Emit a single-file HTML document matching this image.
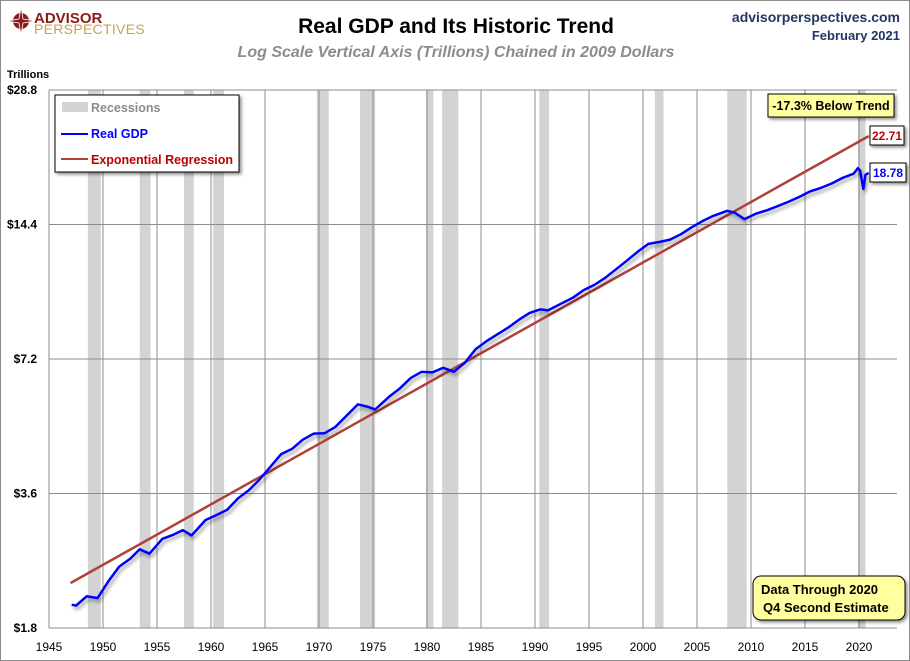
<!DOCTYPE html>
<html><head><meta charset="utf-8">
<style>
body{margin:0;background:#fff;font-family:"Liberation Sans",sans-serif;}
#wrap{position:relative;width:908px;height:659px;border:1px solid #8c8c8c;overflow:hidden;}
svg text{font-family:"Liberation Sans",sans-serif;}
</style></head>
<body>
<div id="wrap">
<svg id="chart" width="908" height="659">
<defs>
<filter id="sh" x="-5%" y="-5%" width="110%" height="120%"><feDropShadow dx="2" dy="3" stdDeviation="1.5" flood-color="#000" flood-opacity="0.35"/></filter>
<filter id="bs" x="-10%" y="-10%" width="130%" height="140%"><feDropShadow dx="2" dy="2" stdDeviation="1.5" flood-color="#000" flood-opacity="0.45"/></filter>
</defs>
<g>
<circle cx="20" cy="20" r="8" fill="#8b1a1a"/>
<path d="M20 6 L22 18 L34 20 L22 22 L20 34 L18 22 L6 20 L18 18Z" fill="#8b1a1a" stroke="#fff" stroke-width="0.8"/>
<text x="33" y="22" font-size="15" font-weight="bold" fill="#8b1a1a">ADVISOR</text>
<text x="33" y="33" font-size="14" fill="#c9a24e" letter-spacing="0.3">PERSPECTIVES</text>
</g>
<text x="455" y="32" text-anchor="middle" font-size="21" font-weight="bold" fill="#000">Real GDP and Its Historic Trend</text>
<text x="455" y="56" text-anchor="middle" font-size="16" font-style="italic" font-weight="bold" fill="#8c8c8c">Log Scale Vertical Axis (Trillions) Chained in 2009 Dollars</text>
<text x="899" y="21" text-anchor="end" font-size="14" font-weight="bold" fill="#1f3864">advisorperspectives.com</text>
<text x="899" y="39" text-anchor="end" font-size="13" font-weight="bold" fill="#1f3864">February 2021</text>
<text x="6" y="77" font-size="11" font-weight="bold">Trillions</text>
<g id="rec"></g><g id="grid"></g><g id="axes"></g><g id="series"></g>
<g filter="url(#bs)">
<rect x="54" y="94" width="184" height="77" fill="#fff" stroke="#000" stroke-width="1"/>
</g>
<g><rect x="61" y="101" width="26" height="10" fill="#d3d3d3"/><text x="90" y="111" font-size="12.5" font-weight="bold" fill="#8c8c8c">Recessions</text></g>
<g><line x1="60" y1="133" x2="87" y2="133" stroke="#0000ff" stroke-width="2"/><text x="90" y="137" font-size="12.5" font-weight="bold" fill="#0000ff">Real GDP</text></g>
<g><line x1="60" y1="158" x2="87" y2="158" stroke="#b0403a" stroke-width="2"/><text x="90" y="163" font-size="12.5" font-weight="bold" fill="#c00000" textLength="142">Exponential Regression</text></g>
<g><rect x="767" y="93" width="126" height="23" fill="#ffffa0" stroke="#000" filter="url(#bs)"/><text x="830" y="109" text-anchor="middle" font-size="12.5" font-weight="bold">-17.3% Below Trend</text></g>
<g><rect x="869" y="125" width="34" height="19" fill="#fff" stroke="#000" filter="url(#bs)"/><text x="886" y="139" text-anchor="middle" font-size="12" font-weight="bold" fill="#c00000">22.71</text></g>
<g><rect x="869" y="162" width="36" height="19" fill="#fff" stroke="#000" filter="url(#bs)"/><text x="887" y="176" text-anchor="middle" font-size="12" font-weight="bold" fill="#0000ff">18.78</text></g>
<g><rect x="752" y="575" width="152" height="44" rx="8" fill="#ffffa0" stroke="#000" filter="url(#bs)"/><text x="760" y="593" font-size="13" font-weight="bold">Data Through 2020</text><text x="762" y="611" font-size="13" font-weight="bold"> Q4 Second Estimate</text></g>
</svg>
</div>
<script>
const yTicks=[1.8,3.6,7.2,14.4,28.8];
const yTickLabels=["$1.8","$3.6","$7.2","$14.4","$28.8"];
const xTicks=[1945,1950,1955,1960,1965,1970,1975,1980,1985,1990,1995,2000,2005,2010,2015,2020];
const recStart=[1948.6,1953.4,1957.5,1960.2,1969.8,1973.8,1979.9,1981.4,1990.4,2001.1,2007.8,2019.9];
const recEnd=[1949.8,1954.4,1958.4,1961.2,1970.9,1975.2,1980.6,1982.9,1991.3,2001.9,2009.6,2020.6];
const gdpYears=[1947.1,1947.5,1948.5,1949.5,1950.5,1951.5,1952.5,1953.4,1954.3,1955.5,1956.5,1957.4,1958.2,1959.5,1960.5,1961.5,1962.5,1963.5,1964.5,1965.5,1966.5,1967.5,1968.5,1969.5,1970.5,1971.5,1972.5,1973.6,1974.5,1975.2,1976.5,1977.5,1978.5,1979.5,1980.5,1981.5,1982.5,1983.5,1984.5,1985.5,1986.5,1987.5,1988.5,1989.5,1990.5,1991.2,1992.5,1993.5,1994.5,1995.5,1996.5,1997.5,1998.5,1999.5,2000.5,2001.5,2002.5,2003.5,2004.5,2005.5,2006.5,2007.8,2008.5,2009.4,2010.5,2011.5,2012.5,2013.5,2014.5,2015.5,2016.5,2017.5,2018.5,2019.5,2019.9,2020.1,2020.4,2020.6,2020.9];
const gdpValues=[2.03,2.02,2.12,2.10,2.29,2.47,2.57,2.70,2.64,2.85,2.91,2.98,2.90,3.14,3.22,3.31,3.51,3.66,3.87,4.13,4.41,4.53,4.75,4.90,4.91,5.07,5.36,5.70,5.63,5.55,5.93,6.19,6.53,6.74,6.72,6.88,6.74,7.06,7.57,7.89,8.17,8.46,8.81,9.13,9.30,9.25,9.60,9.87,10.27,10.55,10.94,11.43,11.95,12.51,13.03,13.16,13.32,13.69,14.19,14.65,15.05,15.45,15.30,14.80,15.24,15.50,15.84,16.20,16.61,17.09,17.40,17.80,18.32,18.71,19.25,19.01,17.30,18.60,18.78];
const trendYears=[1947.0,2020.9];
const trendValues=[2.27,22.71];
const L=48,R=896,T=89,B=627;
const X=y=>L+(y-1945)*10.8;
const Y=v=>B-(Math.log2(v/1.8))*(B-T)/4;
const NS="http://www.w3.org/2000/svg";
function mk(tag,attrs,parent){const e=document.createElementNS(NS,tag);for(const k in attrs)e.setAttribute(k,attrs[k]);document.getElementById(parent).appendChild(e);return e;}
recStart.forEach((s,i)=>{const r=mk('rect',{x:X(s),y:T,width:X(recEnd[i])-X(s),height:B-T,fill:'#d3d3d3'},'rec');

});
xTicks.forEach(t=>{if(t>1945){const l=mk('line',{x1:X(t),y1:T,x2:X(t),y2:B,stroke:'#8c8c8c','stroke-width':1},'grid');

}
const tx=mk('text',{x:X(t),y:650,'text-anchor':'middle','font-size':12},'axes');tx.textContent=t;

});
yTicks.forEach((v,i)=>{const l=mk('line',{x1:L,y1:Y(v),x2:R,y2:Y(v),stroke:'#8c8c8c','stroke-width':1},'grid');


const tx=mk('text',{x:36,y:Y(v)+4,'text-anchor':'end','font-size':12,'font-weight':'bold'},'axes');tx.textContent=yTickLabels[i];

});
const ax=mk('line',{x1:L,y1:T,x2:L,y2:B,stroke:'#8c8c8c'},'axes');


const tr=mk('polyline',{points:trendYears.map((y,i)=>X(y)+','+Y(trendValues[i])).join(' '),fill:'none',stroke:'#b0403a','stroke-width':2.5},'series');


const gl=mk('polyline',{points:gdpYears.map((y,i)=>X(y)+','+Y(gdpValues[i])).join(' '),fill:'none',stroke:'#0000ff','stroke-width':2.5,'stroke-linejoin':'round',filter:'url(#sh)'},'series');


</script>
</body></html>
